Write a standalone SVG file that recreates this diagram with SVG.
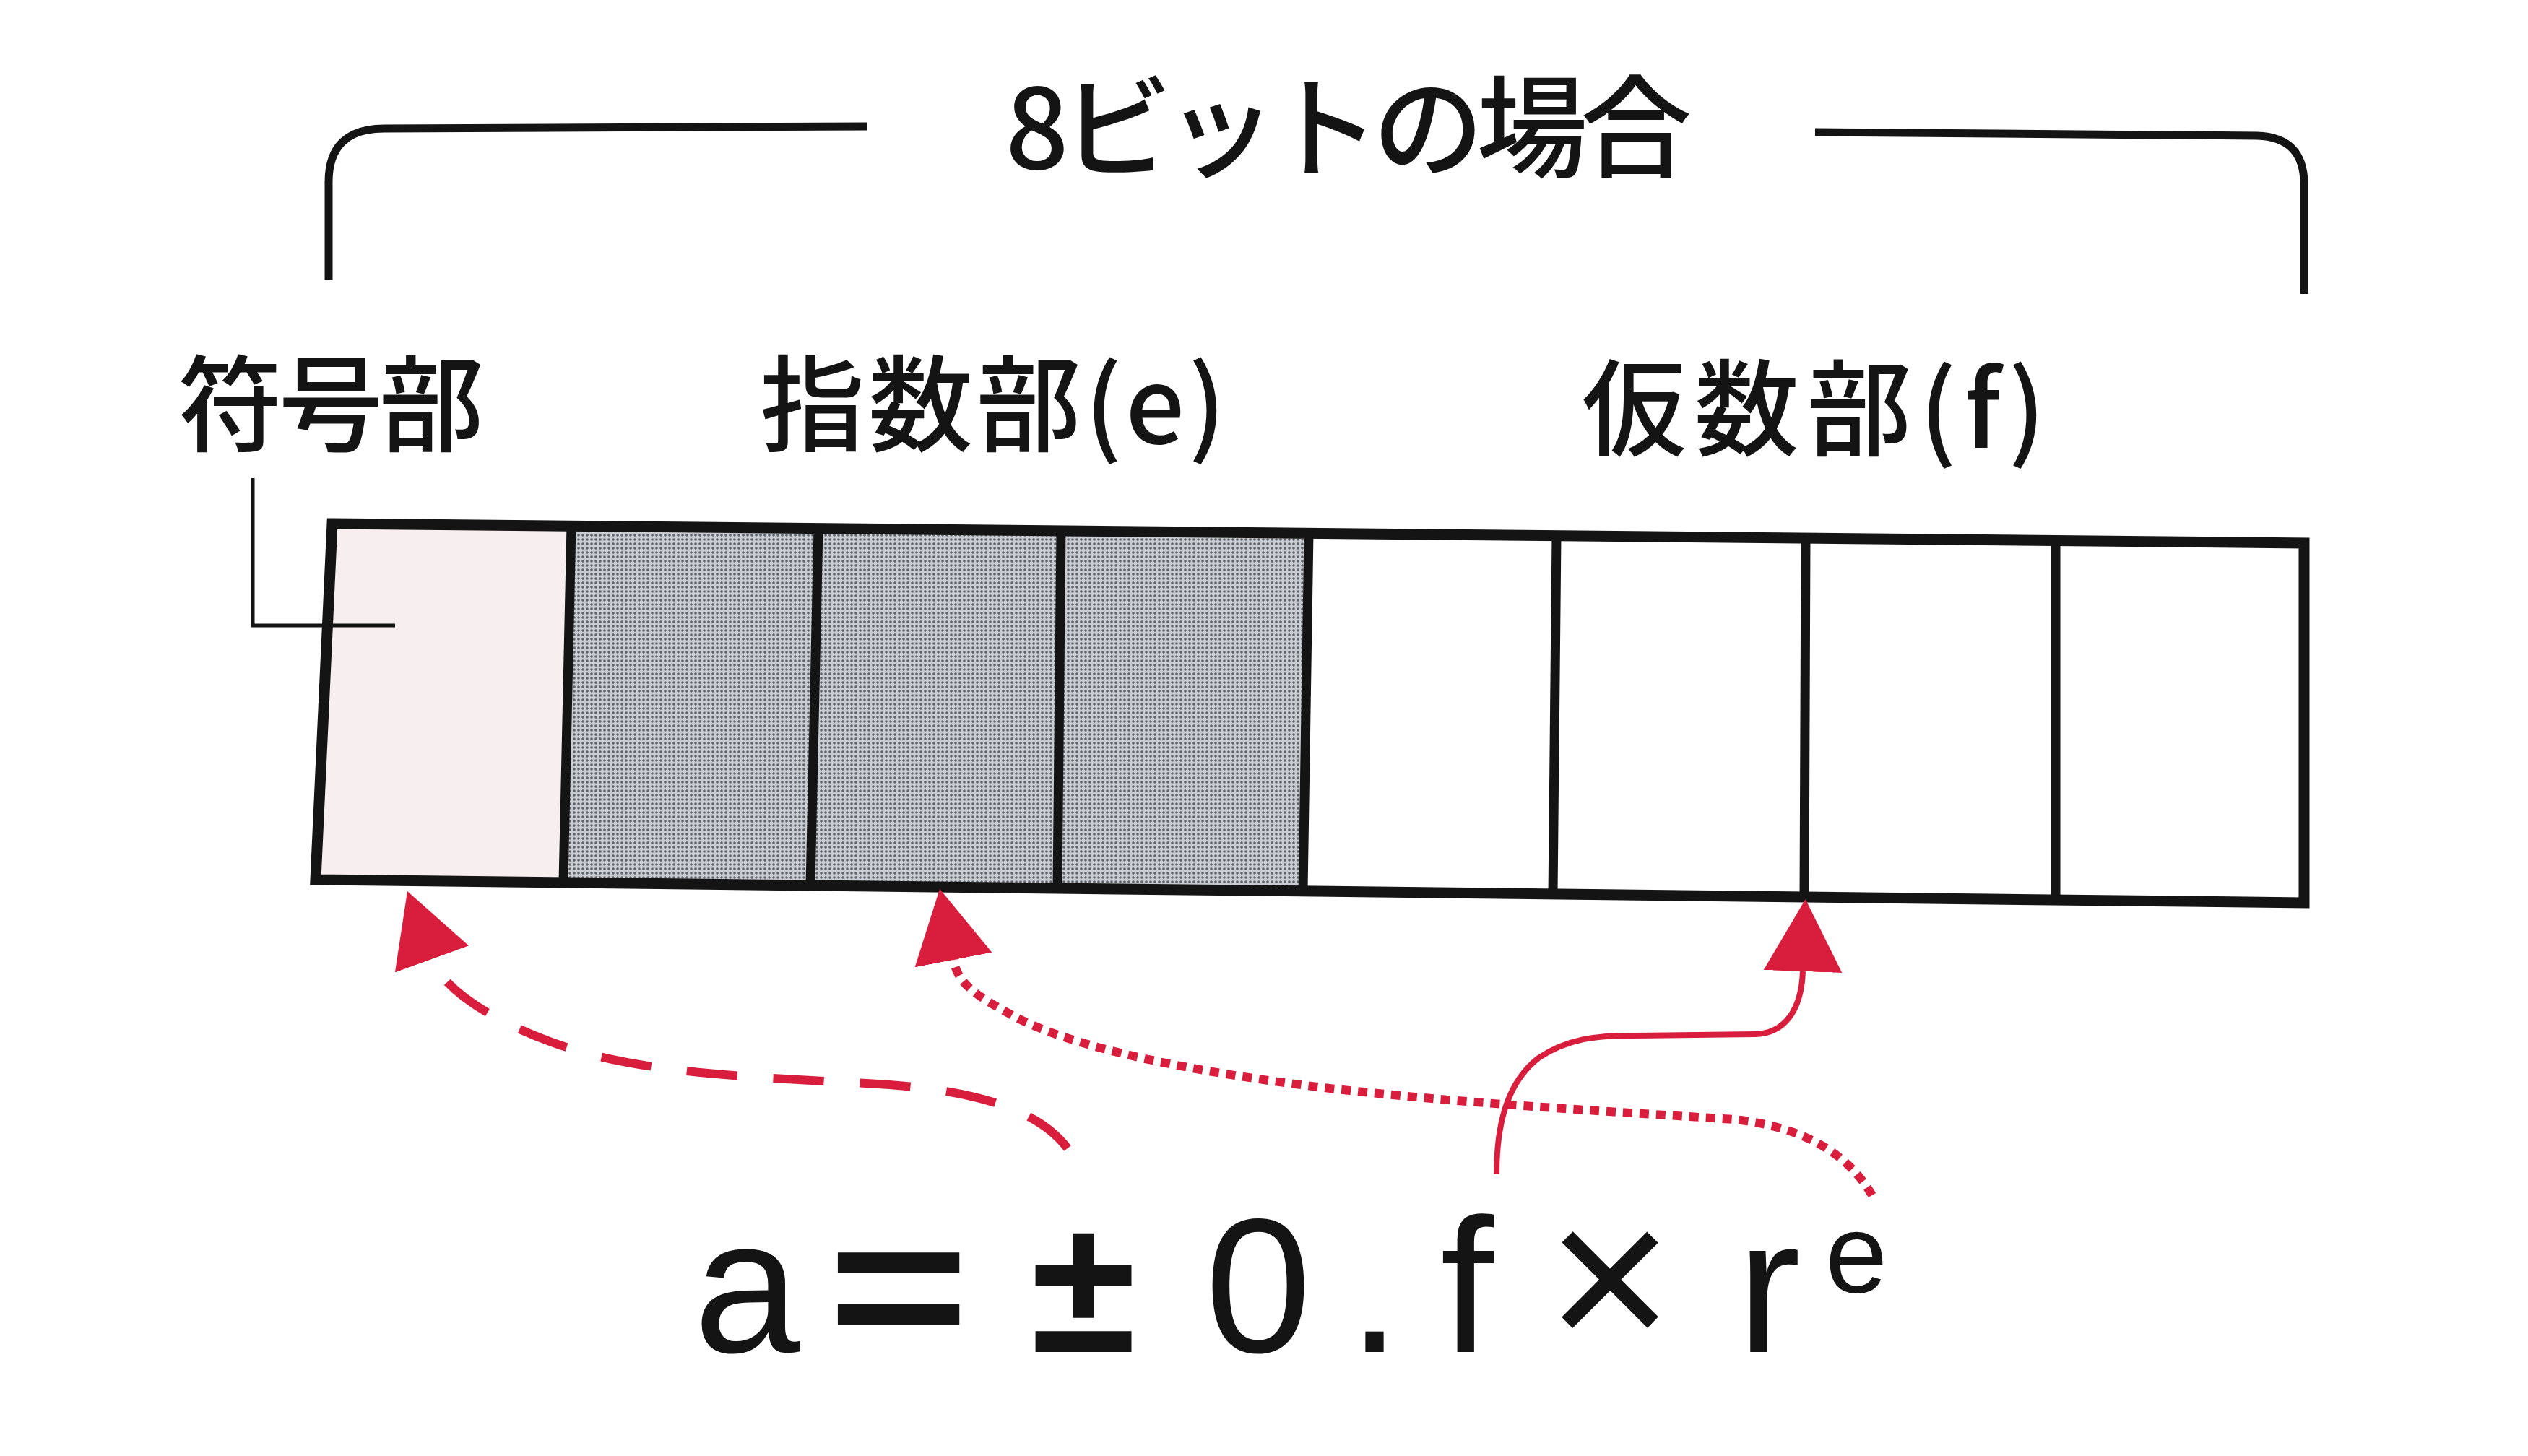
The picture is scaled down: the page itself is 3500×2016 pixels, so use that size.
<svg xmlns="http://www.w3.org/2000/svg" width="3500" height="2016" viewBox="0 0 3500 2016">
<style>
.jp{font-family:"Noto Sans CJK JP","Noto Sans",sans-serif;fill:#141414;font-weight:500}
.mf{font-family:"Liberation Sans","Noto Sans",sans-serif;fill:#141414}
.ln{fill:none;stroke:#141414;stroke-linecap:butt;stroke-linejoin:miter}
.red{fill:none;stroke:#d81e3c}
</style>
<defs>
<pattern id="dots" width="6" height="6" patternUnits="userSpaceOnUse">
<rect width="6" height="6" fill="#c9ccd0"/>
<circle cx="3" cy="3" r="1.8" fill="#5c6268"/>
</pattern>
<marker id="ah" markerUnits="userSpaceOnUse" markerWidth="100" markerHeight="110" refX="0" refY="50" orient="auto" viewBox="0 0 92 100">
<polygon points="0,0 92,50 0,100" fill="#d81e3c"/>
</marker>
</defs>
<rect width="3500" height="2016" fill="#ffffff"/>

<g id="register">
<polygon points="460,725 791,728.3 780,1222 437,1218" fill="#f7eeef"/>
<polygon points="791,728.3 1133,731.7 1122,1226 780,1222" fill="url(#dots)"/>
<polygon points="1133,731.7 1469,735 1464,1229.9 1122,1226" fill="url(#dots)"/>
<polygon points="1469,735 1812,738.4 1804,1233.9 1464,1229.9" fill="url(#dots)"/>
<polygon class="ln" stroke-width="15" points="460,725 3190,752 3190,1250 437,1218"/>
<path class="ln" stroke-width="13" d="M791,728 L780,1222 M1133,732 L1122,1226 M1469,735 L1464,1230 M1812,738 L1804,1234 M2155,742 L2150,1238 M2500,745 L2498,1242 M2846,749 L2846,1246"/>
</g>

<g id="bracket">
<path class="ln" stroke-width="11" d="M455,388 L455,252 Q455,178 532,178 L1200,175"/>
<path class="ln" stroke-width="11" d="M2513,183 L3125,188 Q3190,190 3190,255 L3190,407"/>
</g>

<g id="title">
<text class="jp" x="1392" y="234" font-size="154" textLength="950" lengthAdjust="spacing">8ビットの場合</text>
</g>

<g id="label-sign">
<text class="jp" x="246" y="614" font-size="145" textLength="424" lengthAdjust="spacing">符号部</text>
<path class="ln" stroke-width="5" d="M350,662 L350,866 L547,866"/>
</g>
<g id="label-exponent">
<text class="jp" x="1052" y="614" font-size="145" textLength="645" lengthAdjust="spacing">指数部(e)</text>
</g>
<g id="label-mantissa">
<text class="jp" x="2190" y="620" font-size="145" textLength="642" lengthAdjust="spacing">仮数部(f)</text>
</g>

<g id="connectors">
<path class="red" stroke-width="12" stroke-dasharray="70 50" d="M1478,1590 C1440,1540 1360,1508 1200,1500 C1040,1492 900,1485 800,1455 C700,1425 615,1375 598,1328" marker-end="url(#ah)"/>
<path class="red" stroke-width="12" stroke-dasharray="13 10" d="M2592,1655 C2560,1600 2500,1560 2400,1550 C2250,1540 2050,1530 1850,1508 C1650,1485 1480,1450 1400,1405 C1345,1375 1326,1360 1320,1329" marker-end="url(#ah)"/>
<path class="red" stroke-width="8" d="M2072,1626 C2072,1560 2085,1500 2130,1465 C2170,1438 2210,1434 2260,1434 L2430,1432 C2470,1431 2494,1400 2496,1345" marker-end="url(#ah)"/>
</g>

<g id="formula">
<text class="mf" x="1034" y="1872" font-size="265" text-anchor="middle">a</text>
<text class="mf" x="1146" y="1872" font-size="265" font-weight="bold" textLength="196" lengthAdjust="spacingAndGlyphs">=</text>
<text class="mf" x="1500" y="1872" font-size="265" font-weight="bold" text-anchor="middle">±</text>
<text class="mf" x="1742" y="1872" font-size="265" text-anchor="middle">0</text>
<text class="mf" x="1903" y="1872" font-size="265" text-anchor="middle">.</text>
<text class="mf" x="2031" y="1872" font-size="265" text-anchor="middle">f</text>
<text class="mf" x="2229" y="1872" font-size="300" text-anchor="middle">×</text>
<text class="mf" x="2449" y="1872" font-size="265" text-anchor="middle">r</text>
<text class="mf" x="2570" y="1789" font-size="155" text-anchor="middle">e</text>
</g>
</svg>
